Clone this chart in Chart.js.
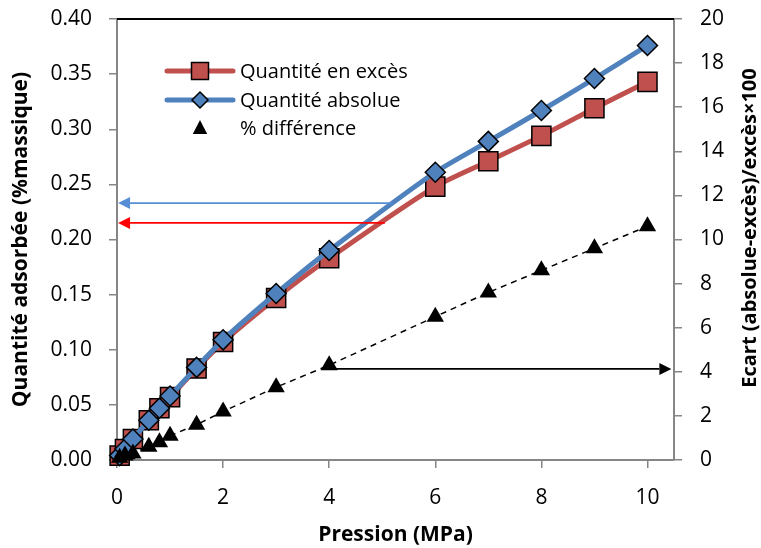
<!DOCTYPE html>
<html lang="fr">
<head>
  <meta charset="UTF-8" />
  <title>Quantité adsorbée vs pression</title>
  <script src="https://cdn.jsdelivr.net/npm/chart.js"></script>
  <style>
    html, body { margin: 0; padding: 0; background: #fff; }
    #wrap { width: 761px; height: 548px; position: relative; }
  </style>
</head>
<body>
  <div id="wrap"><canvas id="chart" width="761" height="548"></canvas></div>

  <script>
  // data
  const pression = [0.05, 0.15, 0.3, 0.6, 0.8, 1.0, 1.5, 2, 3, 4, 6, 7, 8, 9, 10];
  const excess   = [0.004, 0.010, 0.019, 0.036, 0.047, 0.057, 0.083, 0.107, 0.147, 0.183, 0.248, 0.271, 0.294, 0.319, 0.343];
  const absolue  = [0.004, 0.010, 0.019, 0.036, 0.047, 0.058, 0.084, 0.109, 0.151, 0.190, 0.261, 0.289, 0.317, 0.346, 0.376];
  const ecart    = [0.1, 0.2, 0.3, 0.6, 0.8, 1.1, 1.6, 2.2, 3.3, 4.3, 6.5, 7.6, 8.6, 9.6, 10.6];
  const xTicks   = [0, 2, 4, 6, 8, 10];

  const labels = ['Quantité en excès', 'Quantité absolue', '% différence'];

  // annotation arrows, in data units
  const arrows = [
    { axis: 'y',  y: 0.233, from: 5.2,  to: 0.02,  color: '#558ED5' },
    { axis: 'y',  y: 0.215, from: 5.05, to: 0.02,  color: '#FF0000' },
    { axis: 'y1', y: 4.13,  from: 4.0,  to: 10.45, color: '#000000' }
  ];

  const RED = '#C0504D', BLUE = '#4F81BD', AXIS = '#868686';
  const FONT = '"Open Sans", Lato, sans-serif';

  const pts = (ys) => pression.map((p, i) => ({ x: p, y: ys[i] }));

  function drawMarker(ctx, style, x, y, r, fill) {
    ctx.save();
    ctx.fillStyle = fill;
    ctx.strokeStyle = '#000';
    ctx.lineWidth = 1.5;
    ctx.beginPath();
    if (style === 'rect') {
      ctx.rect(x - r, y - r, 2 * r, 2 * r);
    } else if (style === 'rectRot') {
      ctx.moveTo(x, y - r); ctx.lineTo(x + r, y); ctx.lineTo(x, y + r); ctx.lineTo(x - r, y); ctx.closePath();
    } else {
      ctx.moveTo(x, y - r); ctx.lineTo(x + r * 0.9, y + r * 0.75); ctx.lineTo(x - r * 0.9, y + r * 0.75); ctx.closePath();
    }
    ctx.fill();
    if (style !== 'triangle') ctx.stroke();
    ctx.restore();
  }

  function drawArrow(ctx, x1, y1, x2, y2, color) {
    const dir = Math.sign(x2 - x1);
    const head = 12, half = 6;
    ctx.save();
    ctx.strokeStyle = color;
    ctx.fillStyle = color;
    ctx.lineWidth = 1.8;
    ctx.beginPath();
    ctx.moveTo(x1, y1);
    ctx.lineTo(x2 - dir * head, y2);
    ctx.stroke();
    ctx.beginPath();
    ctx.moveTo(x2, y2);
    ctx.lineTo(x2 - dir * head, y2 - half);
    ctx.lineTo(x2 - dir * head, y2 + half);
    ctx.closePath();
    ctx.fill();
    ctx.restore();
  }

  // keep the plot box where the reference has it
  const noPad = s => { s.paddingTop = 0; s.paddingBottom = 0; s.paddingLeft = 0; s.paddingRight = 0; };

  const extras = {
    id: 'extras',
    afterDatasetsDraw(chart) {
      const ctx = chart.ctx;
      const xs = chart.scales.x;
      const area = chart.chartArea;

      // top border of the plot area
      ctx.save();
      ctx.strokeStyle = '#000';
      ctx.lineWidth = 2;
      ctx.beginPath();
      ctx.moveTo(area.left, area.top);
      ctx.lineTo(area.right, area.top);
      ctx.stroke();
      ctx.restore();

      arrows.forEach(a => {
        const ys = chart.scales[a.axis];
        const yy = ys.getPixelForValue(a.y);
        drawArrow(ctx, xs.getPixelForValue(a.from), yy, xs.getPixelForValue(a.to), yy, a.color);
      });

      // legend inside the plot
      const rows = [71, 100, 128];
      ctx.save();
      ctx.font = '20px ' + FONT;
      ctx.fillStyle = '#000';
      ctx.textBaseline = 'middle';
      labels.forEach((lab, i) => {
        const y = rows[i];
        if (i < 2) {
          ctx.strokeStyle = i === 0 ? RED : BLUE;
          ctx.lineWidth = 5;
          ctx.lineCap = 'round';
          ctx.beginPath();
          ctx.moveTo(167, y);
          ctx.lineTo(233, y);
          ctx.stroke();
        }
        if (i === 0) drawMarker(ctx, 'rect', 200, y, 8.5, RED);
        if (i === 1) drawMarker(ctx, 'rectRot', 200, y, 8, BLUE);
        if (i === 2) drawMarker(ctx, 'triangle', 200, y, 8, '#000');
        ctx.fillStyle = '#000';
        ctx.fillText(lab, 240, y + 1);
      });
      ctx.restore();

      // right axis title, reading upwards
      ctx.save();
      ctx.font = 'bold 20px ' + FONT;
      ctx.fillStyle = '#000';
      ctx.textAlign = 'center';
      ctx.textBaseline = 'middle';
      ctx.translate(750, 228);
      ctx.rotate(-Math.PI / 2);
      ctx.fillText('Ecart (absolue-excès)/excès×100', 0, 0);
      ctx.restore();
    }
  };

  const tickFont = { family: FONT, size: 21 };
  const titleFont = { family: FONT, size: 21, weight: 'bold' };

  new Chart(document.getElementById('chart').getContext('2d'), {
    type: 'scatter',
    data: {
      datasets: [
        {
          label: labels[0],
          data: pts(excess),
          yAxisID: 'y',
          showLine: true,
          borderColor: RED,
          borderWidth: 5,
          tension: 0.2,
          pointStyle: 'rect',
          pointRadius: 13.5,
          pointHoverRadius: 13.5,
          pointBackgroundColor: RED,
          pointBorderColor: '#000',
          pointBorderWidth: 1.5,
          order: 2,
          clip: false
        },
        {
          label: labels[1],
          data: pts(absolue),
          yAxisID: 'y',
          showLine: true,
          borderColor: BLUE,
          borderWidth: 5,
          tension: 0.2,
          pointStyle: 'rectRot',
          pointRadius: 10,
          pointHoverRadius: 10,
          pointBackgroundColor: BLUE,
          pointBorderColor: '#000',
          pointBorderWidth: 1.5,
          order: 1,
          clip: false
        },
        {
          label: labels[2],
          data: pts(ecart),
          yAxisID: 'y1',
          showLine: true,
          borderColor: '#000',
          borderWidth: 1.5,
          borderDash: [6, 5],
          pointStyle: 'triangle',
          pointRadius: 10,
          pointHoverRadius: 10,
          pointBackgroundColor: '#000',
          pointBorderColor: '#000',
          pointBorderWidth: 0,
          order: 0,
          clip: false
        }
      ]
    },
    options: {
      responsive: false,
      animation: false,
      layout: { padding: { top: 19, left: 0, right: 0, bottom: 0 } },
      plugins: { legend: { display: false }, tooltip: { enabled: false } },
      scales: {
        x: {
          type: 'linear',
          min: 0,
          max: 10.5,
          afterBuildTicks: s => { s.ticks = xTicks.map(v => ({ value: v })); },
          afterFit: s => { s.height = 88; noPad(s); },
          border: { color: AXIS, width: 2 },
          grid: { drawOnChartArea: false, tickLength: 8, color: AXIS, lineWidth: 1.5 },
          ticks: { font: tickFont, color: '#000', padding: 17, maxRotation: 0 },
          title: { display: true, text: 'Pression (MPa)', font: titleFont, color: '#000', padding: { top: 0, bottom: 0 } }
        },
        y: {
          position: 'left',
          min: 0,
          max: 0.4,
          afterFit: s => { s.width = 117; noPad(s); },
          border: { color: AXIS, width: 2 },
          grid: { drawOnChartArea: false, tickLength: 8, color: AXIS, lineWidth: 1.5 },
          ticks: { stepSize: 0.05, font: tickFont, color: '#000', padding: 17, callback: v => v.toFixed(2) },
          title: { display: true, text: 'Quantité adsorbée (%massique)', font: titleFont, color: '#000', padding: { top: 8, bottom: 0 } }
        },
        y1: {
          position: 'right',
          min: 0,
          max: 20,
          afterFit: s => { s.width = 87; noPad(s); },
          border: { color: AXIS, width: 2 },
          grid: { drawOnChartArea: false, tickLength: 8, color: AXIS, lineWidth: 1.5 },
          ticks: { stepSize: 2, font: tickFont, color: '#000', padding: 18 }
        }
      }
    },
    plugins: [extras]
  });
  </script>
</body>
</html>
